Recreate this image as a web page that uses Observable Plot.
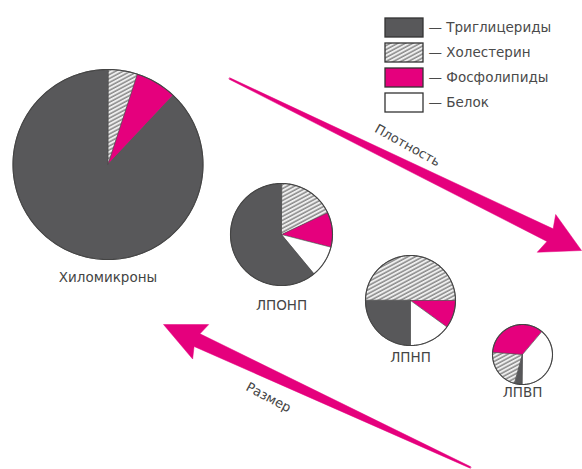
<!DOCTYPE html>
<html>
<head>
<meta charset="utf-8">
<script src="https://cdn.jsdelivr.net/npm/d3@7"></script>
<script src="https://cdn.jsdelivr.net/npm/@observablehq/plot@0.6"></script>
<style>
  html, body { margin: 0; padding: 0; background: #fff; }
  #chart svg { display: block; }
</style>
</head>
<body>
<div id="chart"></div>
<script>
// ---------- data ----------
const lipoproteins = ["Хиломикроны", "ЛПОНП", "ЛПНП", "ЛПВП"];
// slice order around each pie (clockwise)
const components = ["Холестерин", "Фосфолипиды", "Белок", "Триглицериды"];
const cholesterol   = [5, 18, 50, 22];
const phospholipids = [7, 11, 10, 35];
const protein       = [0, 10, 15, 39];
const triglycerides = [88, 61, 25, 4];
const legendItems = ["Триглицериды", "Холестерин", "Фосфолипиды", "Белок"];
const arrowLabels = ["Плотность", "Размер"];

// ---------- layout / style (not data) ----------
const W = 582, H = 469;
const pieLayout = [
  {cx: 107.5, cy: 164, r: 95, start: 0,   labelY: 277},
  {cx: 281,   cy: 234, r: 51, start: 0,   labelY: 305},
  {cx: 410,   cy: 300, r: 45, start: -90, labelY: 357},
  {cx: 522,   cy: 354, r: 30, start: 195, labelY: 392}
];
const colorDomain = ["Триглицериды", "Холестерин", "Фосфолипиды", "Белок"];
const colorRange  = ["#58585a", "url(#hatch)", "#e5007d", "#ffffff"];
const arrowLayout = [
  {tail: [229, 78],  tip: [581, 250], tailW: 1.5, shaftW: 14, headW: 42, headLen: 35,
   label: {x: 407, y: 145, rotate: 29}},
  {tail: [470, 467], tip: [163, 324], tailW: 1.5, shaftW: 14, headW: 38, headLen: 37,
   label: {x: 268, y: 397, rotate: 28}}
];
const legendLayout = {x0: 385, x1: 423, top: 18, step: 25, boxH: 19, textX: 428};

// ---------- build slice polygons ----------
const valuesByComponent = {
  "Холестерин": cholesterol,
  "Фосфолипиды": phospholipids,
  "Белок": protein,
  "Триглицериды": triglycerides
};
const slicePts = [];
lipoproteins.forEach((name, i) => {
  const L = pieLayout[i];
  const total = components.reduce((s, c) => s + valuesByComponent[c][i], 0);
  let a = L.start;
  components.forEach((c, j) => {
    const v = valuesByComponent[c][i];
    if (v <= 0) return;
    const span = v / total * 360;
    const id = `${i}-${j}`;
    slicePts.push({id, component: c, x: L.cx, y: L.cy});
    const n = Math.max(2, Math.ceil(span / 1.5));
    for (let k = 0; k <= n; k++) {
      const t = (a + span * k / n) * Math.PI / 180;
      slicePts.push({id, component: c, x: L.cx + L.r * Math.sin(t), y: L.cy - L.r * Math.cos(t)});
    }
    a += span;
  });
});

// circle outlines
const outlinePts = [];
pieLayout.forEach((L, i) => {
  for (let k = 0; k <= 240; k++) {
    const t = k / 240 * 2 * Math.PI;
    outlinePts.push({id: i, x: L.cx + L.r * Math.sin(t), y: L.cy - L.r * Math.cos(t)});
  }
});

// tapered arrows
const arrowPts = [];
arrowLayout.forEach((A, i) => {
  const [x0, y0] = A.tail, [x1, y1] = A.tip;
  const dx = x1 - x0, dy = y1 - y0, len = Math.hypot(dx, dy);
  const ux = dx / len, uy = dy / len, nx = -uy, ny = ux;
  const bx = x1 - ux * A.headLen, by = y1 - uy * A.headLen;
  const pts = [
    [x0 + nx * A.tailW / 2, y0 + ny * A.tailW / 2],
    [bx + nx * A.shaftW / 2, by + ny * A.shaftW / 2],
    [bx - ux * 4 + nx * A.headW / 2, by - uy * 4 + ny * A.headW / 2],
    [x1, y1],
    [bx - ux * 4 - nx * A.headW / 2, by - uy * 4 - ny * A.headW / 2],
    [bx - nx * A.shaftW / 2, by - ny * A.shaftW / 2],
    [x0 - nx * A.tailW / 2, y0 - ny * A.tailW / 2]
  ];
  pts.forEach(([x, y]) => arrowPts.push({id: i, x, y}));
});

const pieLabels = lipoproteins.map((name, i) => ({name, x: pieLayout[i].cx, y: pieLayout[i].labelY}));
const arrowText = arrowLabels.map((t, i) => ({t, ...arrowLayout[i].label}));
const legendRows = legendItems.map((name, i) => ({
  name,
  x1: legendLayout.x0, x2: legendLayout.x1,
  y1: legendLayout.top + i * legendLayout.step,
  y2: legendLayout.top + i * legendLayout.step + legendLayout.boxH,
  ty: legendLayout.top + i * legendLayout.step + legendLayout.boxH / 2
}));

const font = "'DejaVu Sans', sans-serif";

const plot = Plot.plot({
  width: W, height: H,
  margin: 0,
  style: {background: "#fff", fontFamily: font},
  x: {domain: [0, W], range: [0, W], axis: null},
  y: {domain: [0, H], range: [0, H], axis: null},
  color: {domain: colorDomain, range: colorRange},
  marks: [
    // arrows
    Plot.line(arrowPts, {x: "x", y: "y", z: "id", curve: "linear-closed",
      fill: "#e5007d", stroke: "#e5007d", strokeWidth: 0.5, strokeLinejoin: "round"}),
    // pie slices
    Plot.line(slicePts, {x: "x", y: "y", z: "id", curve: "linear-closed",
      fill: "component", stroke: "#4a4a4a", strokeWidth: 0.6}),
    Plot.line(outlinePts, {x: "x", y: "y", z: "id", stroke: "#444", strokeWidth: 1.1}),
    // pie labels
    Plot.text(pieLabels, {x: "x", y: "y", text: "name", fontSize: 13.5, fill: "#444",
      fontFamily: font, letterSpacing: 1.1}),
    // arrow labels
    Plot.text(arrowText, {x: "x", y: "y", text: "t", rotate: "rotate", fontSize: 13,
      fill: "#444", fontFamily: font, letterSpacing: 0.6}),
    // legend
    Plot.rect(legendRows, {x1: "x1", x2: "x2", y1: "y1", y2: "y2", fill: "name",
      stroke: "#333", strokeWidth: 1.3}),
    Plot.text(legendRows, {x: legendLayout.textX, y: "ty", text: d => "— " + d.name,
      textAnchor: "start", fontSize: 13.5, fill: "#4a4a4a", fontFamily: font, letterSpacing: 0.6})
  ]
});

// hatch pattern definition
const defs = d3.select(plot).insert("defs", ":first-child");
const pat = defs.append("pattern")
  .attr("id", "hatch")
  .attr("patternUnits", "userSpaceOnUse")
  .attr("width", 3.5).attr("height", 3.5)
  .attr("patternTransform", "rotate(-28)");
pat.append("rect").attr("width", 3.5).attr("height", 3.5).attr("fill", "#eeeeee");
pat.append("line").attr("x1", 0).attr("y1", 1).attr("x2", 3.5).attr("y2", 1)
  .attr("stroke", "#8a8a8a").attr("stroke-width", 1.5);

document.getElementById("chart").appendChild(plot);
</script>
</body>
</html>
